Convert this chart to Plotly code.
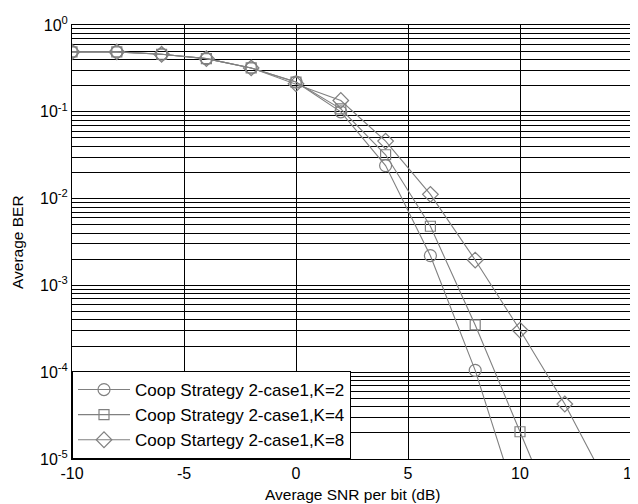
import plotly.graph_objects as go

snr = [-10, -8, -6, -4, -2, 0, 2, 4, 6, 8, 10, 12, 14]
ber_k2 = [0.49, 0.49, 0.46, 0.41, 0.32, 0.22, 0.100, 0.024, 0.0022, 1.05e-4, 2.5e-6]
ber_k4 = [0.49, 0.49, 0.46, 0.41, 0.32, 0.22, 0.108, 0.032, 0.0048, 3.5e-4, 2.06e-5, 1.2e-6]
ber_k8 = [0.49, 0.49, 0.46, 0.41, 0.32, 0.21, 0.135, 0.046, 0.0112, 0.00196, 3.06e-4, 4.3e-5, 4.5e-6]
names = ["Coop Strategy 2-case1,K=2", "Coop Strategy 2-case1,K=4", "Coop Startegy 2-case1,K=8"]
symbols = ["circle-open", "square-open", "diamond-open"]
sizes = [12, 10, 12]

x_ticks = [-10, -5, 0, 5, 10, 15]
x_labels = ["-10", "-5", "0", "5", "10", "15"]
decades = [1, 0.1, 0.01, 0.001, 1e-4, 1e-5]
dec_labels = ["10<sup>0</sup>", "10<sup>-1</sup>", "10<sup>-2</sup>", "10<sup>-3</sup>", "10<sup>-4</sup>", "10<sup>-5</sup>"]

minor_vals = [d * m / 10 for d in decades[:-1] for m in range(2, 10)]

fig = go.Figure()
for ys, nm, sym, sz in zip([ber_k2, ber_k4, ber_k8], names, symbols, sizes):
    fig.add_trace(go.Scatter(
        x=snr[:len(ys)], y=ys, name=nm, mode="lines+markers",
        line=dict(color="#808080", width=1.1),
        marker=dict(symbol=sym, size=sz, color="#808080", line=dict(width=1.2, color="#808080")),
    ))

# the page body adds an 8px offset, so the figure is sized to fill the window exactly
fig.update_layout(
    width=630, height=496,
    paper_bgcolor="white", plot_bgcolor="white",
    margin=dict(l=64, r=6, t=17, b=45, autoexpand=False),
    font=dict(family="Liberation Sans, Arial", size=16, color="black"),
    showlegend=True,
    legend=dict(x=0, y=0, xanchor="left", yanchor="bottom", bgcolor="white",
                bordercolor="black", borderwidth=1, font=dict(size=17),
                tracegroupgap=0, itemwidth=52),
    annotations=[
        dict(text="Average SNR per bit (dB)", xref="paper", yref="paper", x=0.5, y=0,
             yshift=-35, xanchor="center", yanchor="middle", showarrow=False, font=dict(size=15.5)),
        dict(text="Average BER", xref="paper", yref="paper", x=0, y=0.5, xshift=-55,
             xanchor="center", yanchor="middle", textangle=-90, showarrow=False, font=dict(size=15.5)),
    ],
)
fig.update_xaxes(range=[-10, 15], tickvals=x_ticks, ticktext=x_labels,
                 ticklabeloverflow="allow", automargin=False,
                 showgrid=True, gridcolor="black", gridwidth=1,
                 showline=True, linecolor="black", linewidth=1, mirror=True,
                 ticks="", zeroline=False, tickfont=dict(size=16))
fig.update_yaxes(type="log", range=[-5, 0], tickvals=decades, ticktext=dec_labels,
                 automargin=False,
                 showgrid=True, gridcolor="black", gridwidth=1,
                 minor=dict(tickvals=minor_vals, showgrid=True, gridcolor="black", gridwidth=1, ticks=""),
                 showline=True, linecolor="black", linewidth=1, mirror=True,
                 ticks="", zeroline=False, tickfont=dict(size=16))

fig.write_html("out.html")
